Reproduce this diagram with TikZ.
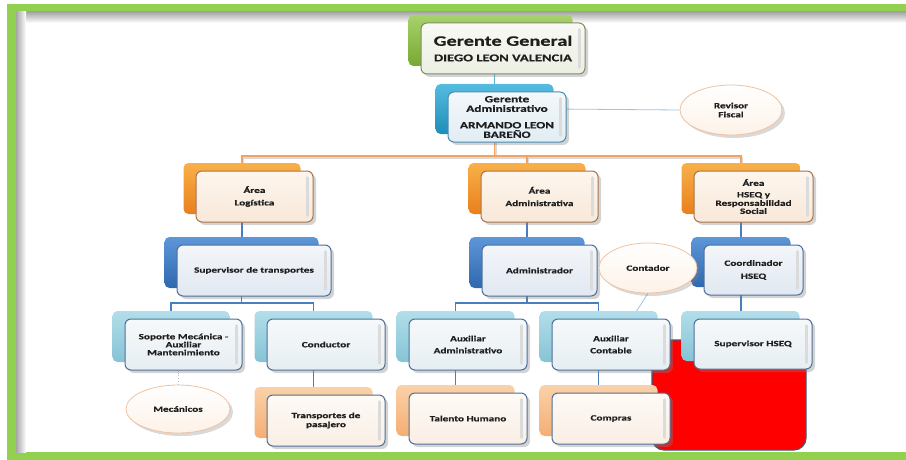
\documentclass[tikz,border=0pt]{standalone}
\usepackage{fontspec}
\newfontfamily\lbl{Carlito}[FakeStretch=1.4,FakeBold=0.5]
\usetikzlibrary{shapes.geometric,shadows}
\pgfdeclarelayer{bg}
\pgfsetlayers{bg,main}
\definecolor{frameg}{HTML}{92D050}
\definecolor{ggbA}{HTML}{A8D26A}\definecolor{ggbB}{HTML}{78A834}
\definecolor{gabA}{HTML}{55BCE0}\definecolor{gabB}{HTML}{1F8DB8}
\definecolor{orbA}{HTML}{F9B04A}\definecolor{orbB}{HTML}{E8801C}
\definecolor{blbA}{HTML}{5D97D8}\definecolor{blbB}{HTML}{2F68AE}
\definecolor{lbbA}{HTML}{B2DEEA}\definecolor{lbbB}{HTML}{86C3D5}
\definecolor{lobA}{HTML}{FBD1A8}\definecolor{lobB}{HTML}{F4AE74}
\definecolor{ggfA}{HTML}{F8F9F3}\definecolor{ggfB}{HTML}{ECEFE3}\definecolor{ggfD}{HTML}{7F8C68}
\definecolor{gafA}{HTML}{F3F8FB}\definecolor{gafB}{HTML}{E1EDF4}\definecolor{gafD}{HTML}{4C8CAE}
\definecolor{orfA}{HTML}{FDF6EE}\definecolor{orfB}{HTML}{F8E8D8}\definecolor{orfD}{HTML}{A8744C}
\definecolor{blfA}{HTML}{F3F6FA}\definecolor{blfB}{HTML}{E1E8F1}\definecolor{blfD}{HTML}{4F6F99}
\definecolor{lbfA}{HTML}{F6F9FB}\definecolor{lbfB}{HTML}{E6EEF2}
\definecolor{lofA}{HTML}{FEFAF6}\definecolor{lofB}{HTML}{F9EEE5}
\definecolor{busor}{HTML}{F5A25C}
\definecolor{lineblue}{HTML}{4A7EBE}
\definecolor{linecyan}{HTML}{5AB4DA}
\definecolor{thinblue}{HTML}{9DC3E6}
\definecolor{ellD}{HTML}{F0C2A0}
\definecolor{ellB}{HTML}{FDF2E8}
\definecolor{redrim}{HTML}{3A5A7A}
\definecolor{txt}{HTML}{1E1E1E}
\tikzset{
  backbox/.style={rectangle, rounded corners=5pt, inner sep=0pt, draw=none},
  frontbox/.style={rectangle, rounded corners=6pt, inner sep=1pt, line width=1pt,
    align=center, text=txt, font=\lbl\bfseries\fontsize{8}{9.5}\selectfont,
    drop shadow={shadow xshift=3pt, shadow yshift=-3pt, opacity=.35}},
  ggback/.style={backbox, top color=ggbA, bottom color=ggbB},
  gaback/.style={backbox, top color=gabA, bottom color=gabB},
  orback/.style={backbox, top color=orbA, bottom color=orbB},
  blback/.style={backbox, top color=blbA, bottom color=blbB},
  lbback/.style={backbox, top color=lbbA, bottom color=lbbB},
  loback/.style={backbox, top color=lobA, bottom color=lobB},
  ggfront/.style={frontbox, draw=ggfD, top color=ggfA, bottom color=ggfB},
  gafront/.style={frontbox, draw=gafD, top color=gafA, bottom color=gafB,
    font=\lbl\bfseries\fontsize{9.5}{9.5}\selectfont},
  orfront/.style={frontbox, draw=orfD, top color=orfA, bottom color=orfB},
  blfront/.style={frontbox, draw=blfD, top color=blfA, bottom color=blfB},
  lbfront/.style={frontbox, draw=blfD, top color=lbfA, bottom color=lbfB},
  lofront/.style={frontbox, draw=blfD, top color=lofA, bottom color=lofB},
  gloss/.style={draw=black!14, line width=2.5pt, line cap=round},
  ell/.style={ellipse, draw=ellD, line width=.8pt, top color=white, bottom color=ellB,
    inner sep=0pt, align=center, text=txt, font=\lbl\bfseries\fontsize{8}{9}\selectfont,
    drop shadow={shadow xshift=3pt, shadow yshift=-3pt, opacity=.3}},
  obus/.style={draw=busor, line width=1.6pt,
    preaction={draw=black!15, line width=1.6pt, transform canvas={xshift=1.5pt,yshift=-2pt}}},
  bline/.style={draw=lineblue, line width=1.5pt},
  cline/.style={draw=linecyan, line width=1.5pt},
  tline/.style={draw=thinblue, line width=.8pt},
  dline/.style={draw=thinblue, line width=.8pt, dotted},
  redbox/.style={rectangle, rounded corners=12pt, fill=red, draw=redrim, line width=1.2pt}
}
\newcommand\orgbox[7]{%
  \node[#2back, minimum width=#5pt, minimum height=#6pt] (#1-b) at (#3-12.5,#4-8) {};
  \node[#2front, minimum width=#5pt, minimum height=#6pt] (#1) at (#3,#4) {#7};
  \draw[gloss] ([xshift=-6pt,yshift=-7pt]#1.north east) -- ([xshift=-6pt,yshift=7pt]#1.south east);
}
\begin{document}
\begin{tikzpicture}[x=1pt,y=-1pt]
\useasboundingbox (0,0) rectangle (906,460);
% boxes
\orgbox{gg}{gg}{503}{48.5}{164}{51}{{\fontsize{14.5}{15}\selectfont Gerente General}\\[6pt]{\fontsize{10.4}{11}\selectfont DIEGO LEON VALENCIA}}
\orgbox{ga}{ga}{507}{117}{118}{50}{Gerente\\Administrativo\\[7pt]ARMANDO LEON\\BAREÑO}
\orgbox{al}{or}{254.5}{196.5}{117}{51}{Área\\[3pt]Logística}
\orgbox{aa}{or}{539.5}{196.5}{117}{51}{Área\\[3pt]Administrativa}
\orgbox{ah}{or}{753.5}{196.5}{119}{51}{Área\\[2pt]HSEQ y\\[-1pt]Responsabilidad\\[-1.5pt]Social}
\orgbox{st}{bl}{254}{270.5}{154}{51}{Supervisor de transportes}
\orgbox{ad}{bl}{539.5}{270.5}{115}{51}{Administrador}
\orgbox{co}{bl}{753.5}{270}{99}{50}{Coordinador\\[3.5pt]HSEQ}
\orgbox{sm}{lb}{183.5}{344.5}{117}{51}{Soporte Mecánica -\\[-1.5pt]Auxiliar\\[-1.5pt]Mantenimiento}
\orgbox{cd}{lb}{326}{344.5}{118}{51}{Conductor}
\orgbox{aad}{lb}{468}{344.5}{118}{51}{Auxiliar\\[2.5pt]Administrativo}
\orgbox{ac}{lb}{611}{344.5}{118}{51}{Auxiliar\\[2.5pt]Contable}
\orgbox{sh}{lb}{753}{344}{118}{50}{Supervisor HSEQ}
\orgbox{tp}{lo}{326}{420.5}{118}{51}{Transportes de\\[-0.5pt]pasajero}
\orgbox{th}{lo}{468}{418.5}{118}{51}{Talento Humano}
\orgbox{cp}{lo}{611}{418.5}{118}{51}{Compras}
% ellipses
\node[ell, minimum width=102pt, minimum height=50pt] (rf) at (731,110) {Revisor\\Fiscal};
\node[ell, minimum width=98pt, minimum height=50pt] (ct) at (648,268) {Contador};
\node[ell, minimum width=104pt, minimum height=48pt] (mc) at (178,409) {Mecánicos};
\coordinate (ctend) at (636,312);
\begin{pgfonlayer}{bg}
  % frame
  \fill[frameg] (7,4) rectangle (906,12);
  \fill[frameg] (7,4) rectangle (16,460);
  \fill[frameg] (7,452) rectangle (906,460);
  \shade[top color=black!35, bottom color=white] (16,12) rectangle (906,23);
  \shade[left color=black!35, right color=white] (16,12) rectangle (26,452);
  % red box
  \node[redbox, minimum width=154pt, minimum height=110pt] (red) at (729,395) {};
  % connectors
  \draw[cline] (ga-b.north) -- (ga-b.north |- gg-b.south);
  \draw[tline] (ga-b.east) -- (rf.west);
  \draw[obus] (ga-b.south) -- ++(0,22) coordinate (j1) -| (al-b.north);
  \draw[obus] (j1) -| (ah-b.north);
  \draw[obus] (j1) -| (aa-b.north);
  \draw[bline] (al-b.south) -- (al-b.south |- st-b.north);
  \draw[bline] (aa-b.south) -- (aa-b.south |- ad-b.north);
  \draw[bline] (ah-b.south) -- (ah-b.south |- co-b.north);
  \draw[bline] (co-b.south) -- (co-b.south |- sh-b.north);
  \draw[bline] (st-b.south) -- ++(0,15) coordinate (j2) -| (sm-b.north);
  \draw[bline] (j2) -| (cd-b.north);
  \draw[bline] (ad-b.south) -- ++(0,15) coordinate (j3) -| (aad-b.north);
  \draw[bline] (j3) -| (ac-b.north);
  \draw[bline] (cd-b.south) -- (cd-b.south |- tp-b.north);
  \draw[bline] (aad-b.south) -- (aad-b.south |- th-b.north);
  \draw[bline] (ac-b.south) -- (ac-b.south |- cp-b.north);
  \draw[dline] (mc.north) -- (mc.north |- sm.south);
  \draw[tline] (ct.south) -- (ctend);
\end{pgfonlayer}
\end{tikzpicture}
\end{document}
